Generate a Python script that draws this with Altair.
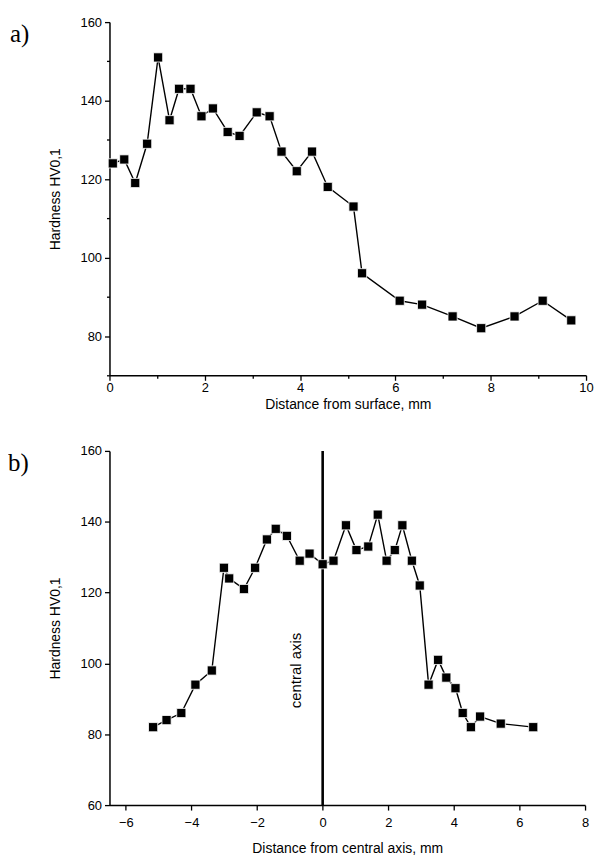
import altair as alt
import pandas as pd

# Panel a) hardness vs distance from surface
surf_x = [0.07, 0.31, 0.54, 0.79, 1.02, 1.26, 1.46, 1.70, 1.93, 2.17, 2.48, 2.73, 3.09, 3.36,
          3.61, 3.93, 4.25, 4.58, 5.12, 5.30, 6.09, 6.56, 7.20, 7.80, 8.50, 9.09, 9.69]
surf_hv = [124, 125, 119, 129, 151, 135, 143, 143, 136, 138, 132, 131, 137, 136,
           127, 122, 127, 118, 113, 96, 89, 88, 85, 82, 85, 89, 84]

# Panel b) hardness vs distance from central axis
axis_x = [-5.17, -4.76, -4.31, -3.88, -3.38, -3.01, -2.85, -2.40, -2.06, -1.70, -1.43, -1.09,
          -0.70, -0.40, 0.0, 0.33, 0.71, 1.03, 1.39, 1.68, 1.95, 2.20, 2.43, 2.72, 2.96,
          3.23, 3.52, 3.77, 4.05, 4.27, 4.52, 4.80, 5.43, 6.42]
axis_hv = [82, 84, 86, 94, 98, 127, 124, 121, 127, 135, 138, 136,
           129, 131, 128, 129, 139, 132, 133, 142, 129, 132, 139, 129, 122,
           94, 101, 96, 93, 86, 82, 85, 83, 82]

central_axis_pos = [0]
central_label = ["central axis"]

x_ticks_a = list(range(0, 11))
y_ticks_a = list(range(70, 161, 10))
x_ticks_b = list(range(-6, 9))
y_ticks_b = list(range(60, 161, 10))

df_a = pd.DataFrame({"x": surf_x, "hv": surf_hv, "i": range(len(surf_x))})
df_b = pd.DataFrame({"x": axis_x, "hv": axis_hv, "i": range(len(axis_x))})
df_rule = pd.DataFrame({"x": central_axis_pos})
df_lab = pd.DataFrame({"x": [-0.8], "hv": [98], "t": central_label})

FONT = "Liberation Sans"


def axis(title, values, step, label_pad, title_pad):
    test = f"abs(datum.value) % {step} == 0"
    return alt.Axis(
        title=title, values=values, grid=False,
        labelExpr=f"{test} ? datum.label : ''",
        labelOverlap=False, labelFlush=False,
        tickSize={"condition": {"test": test, "value": 5}, "value": 3},
        tickColor="black", tickWidth=1.3,
        domainColor="black", domainWidth=1.5,
        labelFont=FONT, labelFontSize=13, labelColor="black", labelPadding=label_pad,
        titleFont=FONT, titleFontSize=14, titleFontWeight="normal", titleColor="black",
        titlePadding=title_pad,
    )


def panel(df, xdom, ydom, xt, yt, xtitle, tag, tag_x, xlp, xtp):
    x = alt.X("x:Q", scale=alt.Scale(domain=xdom, nice=False, zero=False),
              axis=axis(xtitle, xt, 2, xlp, xtp))
    y = alt.Y("hv:Q", scale=alt.Scale(domain=ydom, nice=False, zero=False),
              axis=axis("Hardness HV0,1", yt, 20, 3, 18))
    line = alt.Chart(df).mark_line(color="black", strokeWidth=1.4).encode(
        x=x, y=y, order="i:O")
    pts = alt.Chart(df).mark_point(shape="square", filled=True, size=85, color="black",
                                   stroke="white", strokeWidth=0.8, opacity=1).encode(x=x, y=y)
    tag_txt = alt.Chart(pd.DataFrame({"t": [tag]})).mark_text(
        font="Liberation Serif", fontSize=25, align="left", baseline="middle", color="black"
    ).encode(text="t:N", x=alt.value(tag_x), y=alt.value(12))
    return line, pts, tag_txt


la, pa, ta = panel(df_a, [0, 10], [70, 160], x_ticks_a, y_ticks_a,
                   "Distance from surface, mm", "a)", -100, 1, 3)
top = alt.layer(la, pa, ta).properties(width=479, height=355)

lb, pb, tb = panel(df_b, [-6.5, 8], [60, 160], x_ticks_b, y_ticks_b,
                   "Distance from central axis, mm", "b)", -102, 7, 12)
rule = alt.Chart(df_rule).mark_rule(color="black", strokeWidth=2.6).encode(x=alt.X("x:Q"))
lab = alt.Chart(df_lab).mark_text(font=FONT, fontSize=15, angle=270, color="black").encode(
    x="x:Q", y="hv:Q", text="t:N")
bottom = alt.layer(rule, lb, pb, lab, tb).properties(width=478, height=356)

chart = alt.vconcat(top, bottom, spacing=34).configure_view(stroke=None).properties(
    background="white", padding={"top": 6, "left": 0, "right": 0, "bottom": 0})

chart.save("out.html", embed_options={"renderer": "svg", "actions": False})
